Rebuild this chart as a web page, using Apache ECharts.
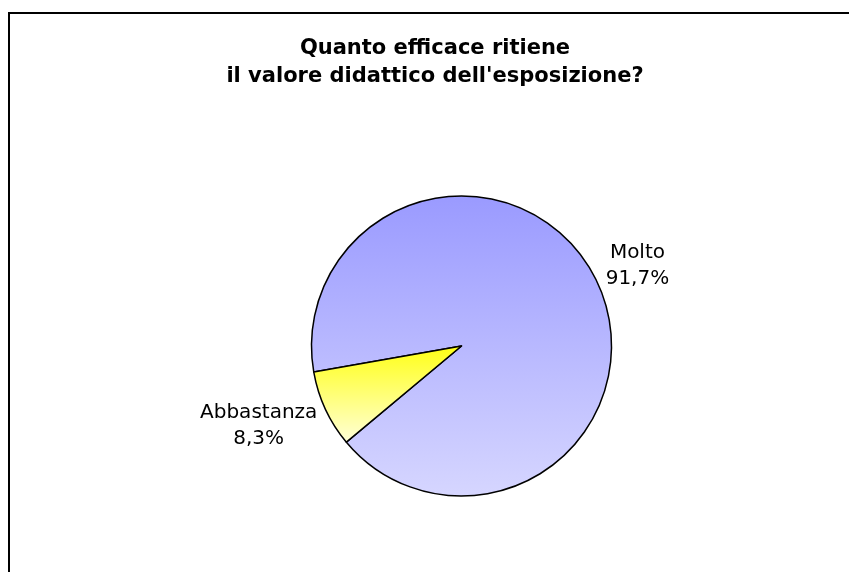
<!DOCTYPE html>
<html><head><meta charset="utf-8">
<script src="https://cdn.jsdelivr.net/npm/echarts@6/dist/echarts.min.js"></script>
<style>html,body{margin:0;padding:0;background:#fff}#c{width:849px;height:572px}</style>
</head><body><div id="c"></div>
<script>
const titleLines = ["Quanto efficace ritiene", "il valore didattico dell'esposizione?"];
const categories = ["Molto", "Abbastanza"];
const values = [91.7, 8.3];
const labelsPct = ["91,7%", "8,3%"];
const gradients = [
  ["#9a9aff", "#d6d6ff"],
  ["#ffff14", "#ffffd8"]
];

const CX = 461.5, CY = 346, R = 150, START = 190, GAP = 9, VOFF = 13;
const total = values.reduce((a, b) => a + b, 0);
function midAngle(i) {
  let before = 0;
  for (let k = 0; k < i; k++) before += values[k];
  return (START - 360 * (before + values[i] / 2) / total) * Math.PI / 180;
}

const chart = echarts.init(document.getElementById('c'), null, {renderer: 'canvas'});
chart.setOption({
  animation: false,
  backgroundColor: '#fff',
  title: {
    text: titleLines.join('\n'),
    left: 430, top: 30, textAlign: 'center',
    textStyle: {fontFamily: 'DejaVu Sans', fontWeight: 'bold', fontSize: 21, lineHeight: 28, color: '#000'}
  },
  graphic: [{
    type: 'rect', silent: true,
    shape: {x: 9, y: 13, width: 900, height: 620},
    style: {fill: 'none', stroke: '#000', lineWidth: 2}
  }],
  series: [{
    type: 'pie',
    center: [CX, CY],
    radius: [0, R],
    startAngle: START,
    clockwise: true,
    avoidLabelOverlap: false,
    data: categories.map((c, i) => ({
      name: c, value: values[i],
      itemStyle: {
        color: {type: 'linear', x: 0, y: 0, x2: 0, y2: 1,
          colorStops: [{offset: 0, color: gradients[i][0]}, {offset: 1, color: gradients[i][1]}]}
      },
      label: {formatter: c + '\n' + labelsPct[i]}
    })),
    itemStyle: {borderColor: '#000', borderWidth: 1.5},
    label: {
      show: true, position: 'outside',
      fontFamily: 'DejaVu Sans', fontSize: 20, lineHeight: 26, color: '#000'
    },
    labelLine: {show: false},
    labelLayout: function (p) {
      const a = midAngle(p.dataIndex);
      const c = Math.cos(a), s = Math.sin(a);
      const hw = p.labelRect.width / 2;
      const x = CX + (R + GAP) * c + Math.sign(c) * hw;
      const y = CY - (R + GAP) * s - Math.sign(s) * VOFF;
      return {x: x, y: y, align: 'center', verticalAlign: 'middle'};
    },
    emphasis: {disabled: true}
  }]
});
</script></body></html>
